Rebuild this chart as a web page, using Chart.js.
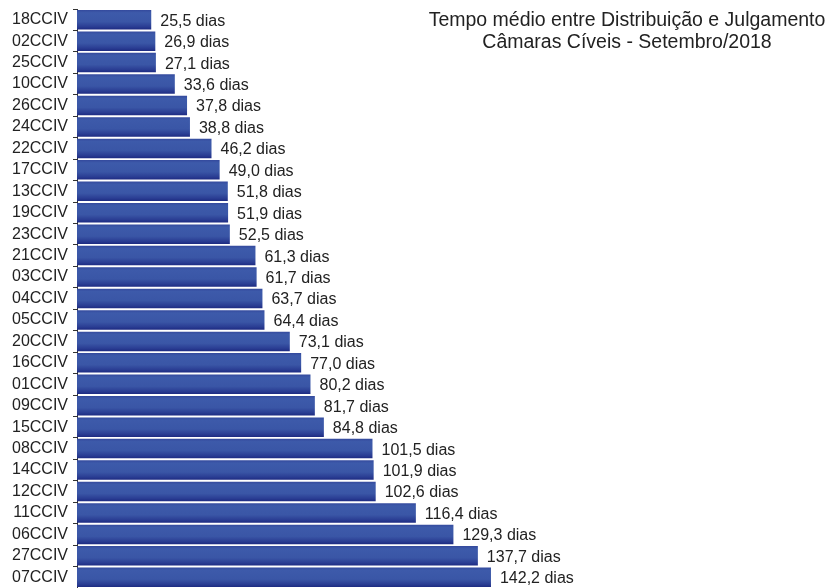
<!DOCTYPE html>
<html>
<head>
<meta charset="utf-8">
<script src="https://cdn.jsdelivr.net/npm/chart.js@4/dist/chart.umd.min.js"></script>
<style>
  html, body { margin: 0; padding: 0; background: #fff; }
  #wrap { position: relative; width: 831px; height: 588px; }
  #title { position: absolute; left: 422px; top: 8px; width: 410px; text-align: center;
    font-family: "Liberation Sans", Arial, sans-serif; font-size: 19.5px; line-height: 22px; color: #222; white-space: nowrap; }
</style>
</head>
<body>
<div id="wrap">
  <canvas id="c" width="831" height="588"></canvas>
  <div id="title">Tempo médio entre Distribuição e Julgamento<br>Câmaras Cíveis - Setembro/2018</div>
</div>
<script>
const categories = ["18CCIV","02CCIV","25CCIV","10CCIV","26CCIV","24CCIV","22CCIV","17CCIV","13CCIV","19CCIV","23CCIV","21CCIV","03CCIV","04CCIV","05CCIV","20CCIV","16CCIV","01CCIV","09CCIV","15CCIV","08CCIV","14CCIV","12CCIV","11CCIV","06CCIV","27CCIV","07CCIV"];
const values = [25.5,26.9,27.1,33.6,37.8,38.8,46.2,49.0,51.8,51.9,52.5,61.3,61.7,63.7,64.4,73.1,77.0,80.2,81.7,84.8,101.5,101.9,102.6,116.4,129.3,137.7,142.2];
const unit = " dias";

function fmt(v) { return v.toFixed(1).replace('.', ',') + unit; }

const labelPlugin = {
  id: 'valueLabels',
  afterDatasetsDraw(chart) {
    const ctx = chart.ctx;
    const meta = chart.getDatasetMeta(0);
    ctx.save();
    ctx.font = '16px "Liberation Sans", Arial, sans-serif';
    ctx.fillStyle = '#222';
    ctx.textAlign = 'left';
    ctx.textBaseline = 'middle';
    meta.data.forEach((bar, i) => {
      ctx.fillText(fmt(values[i]), bar.x + 9, bar.y + 1.5);
    });
    ctx.restore();
  }
};

function barGradient(context) {
  const chart = context.chart;
  const y = chart.scales && chart.scales.y;
  if (!y || context.dataIndex === undefined) return '#3a56a6';
  const cy = y.getPixelForValue(context.dataIndex);
  if (!isFinite(cy)) return '#3a56a6';
  const h = 20;
  const g = chart.ctx.createLinearGradient(0, cy - h / 2, 0, cy + h / 2);
  g.addColorStop(0, '#33489c');
  g.addColorStop(0.15, '#3d5aaa');
  g.addColorStop(0.6, '#3a56a6');
  g.addColorStop(0.85, '#2a3d93');
  g.addColorStop(1, '#1c2980');
  return g;
}

new Chart(document.getElementById('c'), {
  type: 'bar',
  data: {
    labels: categories,
    datasets: [{
      data: values,
      backgroundColor: barGradient,
      borderWidth: 0,
      categoryPercentage: 1,
      barPercentage: 0.91
    }]
  },
  options: {
    indexAxis: 'y',
    responsive: false,
    animation: false,
    layout: { padding: { top: 9, bottom: 0, left: 0, right: 0 } },
    plugins: { legend: { display: false }, tooltip: { enabled: false }, title: { display: false } },
    scales: {
      x: { display: false, min: 0, max: 259 },
      y: {
        afterFit(scale) { scale.width = 77; scale.paddingTop = 0; scale.paddingBottom = 0; },
        border: { display: true, color: '#333', width: 1 },
        grid: { display: true, drawOnChartArea: false, drawTicks: true, tickLength: 4, color: '#333', offset: true },
        ticks: { color: '#222', padding: 5, font: { family: '"Liberation Sans", Arial, sans-serif', size: 16 }, autoSkip: false }
      }
    }
  },
  plugins: [labelPlugin]
});
</script>
</body>
</html>
